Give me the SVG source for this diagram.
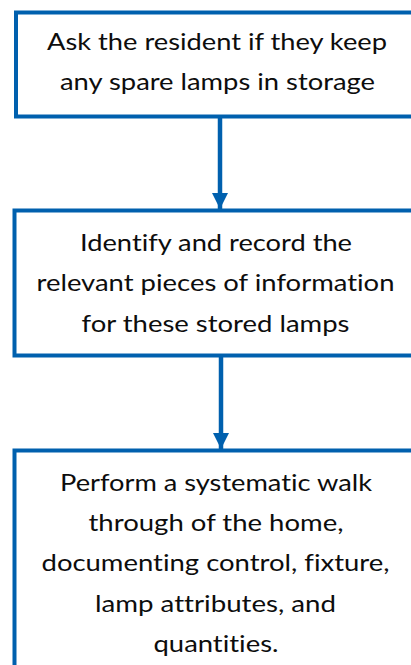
<svg xmlns="http://www.w3.org/2000/svg" width="411" height="665" viewBox="0 0 411 665">
<style>
.box{fill:#ffffff;stroke:#0060AE;stroke-width:4}
.t{font-family:Lato,"Liberation Sans",sans-serif;font-size:24px;fill:#0d0d0d;text-anchor:middle;font-variant-ligatures:none;font-feature-settings:"liga" 0,"dlig" 0}
.c{stroke:#0060AE;stroke-width:4.5;fill:none}
</style>
<defs>
<marker id="ah" markerUnits="userSpaceOnUse" markerWidth="18" markerHeight="16" refX="16" refY="8" orient="auto">
<path d="M0,0 L16,8 L0,16 Z" fill="#0060AE"/>
</marker>
</defs>
<rect width="411" height="665" fill="#ffffff"/>
<g id="connectors">
<line class="c" x1="220" y1="118" x2="220" y2="209" marker-end="url(#ah)"/>
<line class="c" x1="221" y1="357" x2="221" y2="449" marker-end="url(#ah)"/>
</g>
<g id="node1">
<rect class="box" x="16" y="12.5" width="410" height="104"/>
<text class="t" x="217" y="49.5" textLength="340" lengthAdjust="spacingAndGlyphs">Ask the resident if they keep</text>
<text class="t" x="217.5" y="90" textLength="315" lengthAdjust="spacingAndGlyphs">any spare lamps in storage</text>
</g>
<g id="node2">
<rect class="box" x="14.5" y="210.5" width="410" height="145"/>
<text class="t" x="216" y="251" textLength="272" lengthAdjust="spacingAndGlyphs">Identify and record the</text>
<text class="t" x="215.5" y="291" textLength="358" lengthAdjust="spacingAndGlyphs">relevant pieces of information</text>
<text class="t" x="215.5" y="331.5" textLength="268" lengthAdjust="spacingAndGlyphs">for these stored lamps</text>
</g>
<g id="node3">
<rect class="box" x="14.5" y="450.5" width="410" height="230"/>
<text class="t" x="216" y="491" textLength="312" lengthAdjust="spacingAndGlyphs">Perform a systematic walk</text>
<text class="t" x="216" y="530.5" textLength="255" lengthAdjust="spacingAndGlyphs">through of the home,</text>
<text class="t" x="215.5" y="571" textLength="348" lengthAdjust="spacingAndGlyphs">documenting control, fixture,</text>
<text class="t" x="215.5" y="611.5" textLength="241" lengthAdjust="spacingAndGlyphs">lamp attributes, and</text>
<text class="t" x="216" y="652" textLength="125" lengthAdjust="spacingAndGlyphs">quantities.</text>
</g>
</svg>
